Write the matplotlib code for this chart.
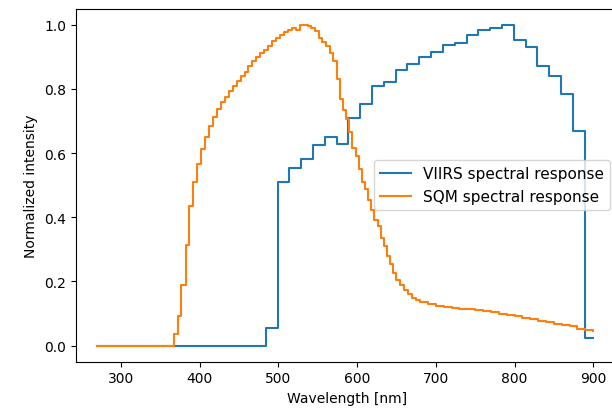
import matplotlib
matplotlib.use("Agg")
import matplotlib.pyplot as plt

# VIIRS band response: step edges (nm) and value from each edge on
viirs_wl = [270, 484, 499, 514, 529, 544, 559, 574, 589, 604, 619, 634, 649,
            664, 679, 694, 709, 724, 739, 754, 769, 784, 799, 814, 829, 844,
            859, 874, 889, 900]
viirs_resp = [0.0, 0.055, 0.51, 0.555, 0.582, 0.626, 0.649, 0.628, 0.709,
              0.754, 0.808, 0.823, 0.858, 0.878, 0.899, 0.915, 0.938, 0.943,
              0.969, 0.983, 0.990, 1.0, 0.953, 0.932, 0.870, 0.841, 0.785,
              0.668, 0.024, 0.024]

# SQM response
sqm_wl = [270, 368, 372, 376, 382, 387, 392, 397, 402, 407, 412, 417, 422,
          427, 432, 437, 442, 447, 452, 457, 462, 467, 472, 477, 482, 487,
          492, 497, 502, 507, 512, 517, 522, 527, 532, 537, 542, 547, 552,
          556, 561, 566, 570, 574, 578, 582, 586, 590, 594, 598, 602, 606,
          610, 614, 618, 622, 626, 630, 634, 638, 642, 646, 650, 655, 660,
          665, 670, 675, 680, 690, 700, 710, 720, 730, 740, 750, 760, 770,
          780, 790, 800, 810, 820, 830, 840, 850, 860, 870, 880, 890, 900]
sqm_resp = [0.0, 0.037, 0.093, 0.19, 0.315, 0.436, 0.51, 0.565, 0.612, 0.65,
            0.685, 0.712, 0.738, 0.758, 0.775, 0.795, 0.81, 0.825, 0.84,
            0.853, 0.87, 0.886, 0.898, 0.912, 0.922, 0.935, 0.948, 0.958,
            0.968, 0.978, 0.985, 0.99, 0.985, 1.0, 0.998, 0.995, 0.99, 0.979,
            0.96, 0.945, 0.935, 0.912, 0.886, 0.83, 0.77, 0.735, 0.705, 0.665,
            0.615, 0.59, 0.55, 0.51, 0.487, 0.455, 0.424, 0.393, 0.372, 0.336,
            0.31, 0.28, 0.255, 0.226, 0.206, 0.19, 0.174, 0.16, 0.15, 0.143,
            0.137, 0.13, 0.125, 0.121, 0.118, 0.115, 0.113, 0.11, 0.107,
            0.104, 0.1, 0.097, 0.093, 0.087, 0.083, 0.078, 0.073, 0.069,
            0.065, 0.062, 0.053, 0.049, 0.045]

fig = plt.figure(figsize=(6.12, 4.14), dpi=100)
# right edge of the axes sits just past the figure edge, as in the cropped original
ax = fig.add_axes([0.1237, 0.1239, 0.8855, 0.8527])

ax.step(viirs_wl, viirs_resp, where="post", color="tab:blue",
        label="VIIRS spectral response")
ax.step(sqm_wl, sqm_resp, where="post", color="tab:orange",
        label="SQM spectral response")

ax.set_xlim(242.5, 931)
ax.set_ylim(-0.05, 1.05)
ax.set_xlabel("Wavelength [nm]")
ax.set_ylabel("Normalized intensity")
ax.legend(loc="center right", fontsize=11)

fig.savefig("out.png", dpi=100)
